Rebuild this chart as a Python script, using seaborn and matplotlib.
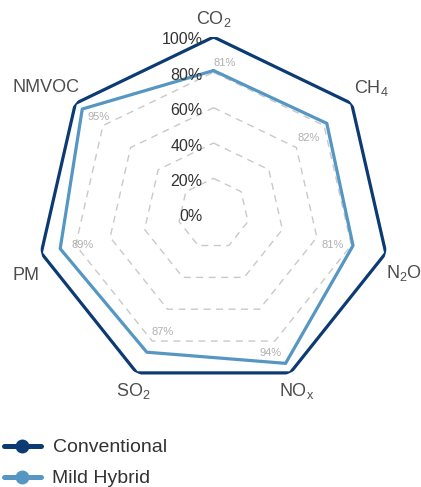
import numpy as np
import pandas as pd
import matplotlib
matplotlib.use("Agg")
import matplotlib.pyplot as plt
from matplotlib.lines import Line2D
import seaborn as sns

# Emission categories and relative emissions (Conventional = 100%)
categories = ["CO$_2$", "CH$_4$", "N$_2$O", "NO$_x$", "SO$_2$", "PM", "NMVOC"]
conventional = [100, 100, 100, 100, 100, 100, 100]
mild_hybrid = [81, 82, 81, 94, 87, 89, 95]
series_names = ["Conventional", "Mild Hybrid"]
ring_levels = [0, 20, 40, 60, 80, 100]
ring_labels = ["0%", "20%", "40%", "60%", "80%", "100%"]

colors = {"Conventional": "#0b3b72", "Mild Hybrid": "#5596c2"}

sns.set_theme(style="white")
plt.rcParams["font.family"] = ["Liberation Sans", "DejaVu Sans"]
plt.rcParams["mathtext.fontset"] = "custom"
plt.rcParams["mathtext.rm"] = "Liberation Sans"
plt.rcParams["mathtext.it"] = "Liberation Sans"
plt.rcParams["mathtext.default"] = "regular"

n = len(categories)
angles = np.arange(n) * 2 * np.pi / n
closed = np.append(angles, angles[0])

rows = []
for name, vals in zip(series_names, [conventional, mild_hybrid]):
    for k, (a, v) in enumerate(zip(closed, list(vals) + [vals[0]])):
        rows.append({"theta": a, "value": v, "series": name, "order": k})
df = pd.DataFrame(rows)

W, H = 421, 487
fig = plt.figure(figsize=(W / 100, H / 100), dpi=100)
cx, cy, R = 213.5, 213.7, 176.7
ax = fig.add_axes([(cx - R) / W, (H - cy - R) / H, 2 * R / W, 2 * R / H],
                  projection="polar")
ax.set_theta_offset(np.pi / 2)
ax.set_theta_direction(-1)
ax.set_ylim(0, 100)
ax.grid(False)
ax.set_xticks([])
ax.set_yticks([])
ax.spines["polar"].set_visible(False)
ax.patch.set_alpha(0)

# dashed heptagonal grid
for lvl in ring_levels[1:-1]:
    ax.plot(closed, [lvl] * (n + 1), color="#c9c9c9", lw=1.0,
            ls=(0, (5, 4)), zorder=1)

sns.lineplot(data=df, x="theta", y="value", hue="series", sort=False,
             estimator=None, units="series", palette=colors, lw=2.3,
             legend=False, ax=ax, zorder=3)
ax.set_xlabel("")
ax.set_ylabel("")

# radial tick labels along the top spoke
for lvl, lab in zip(ring_levels, ring_labels):
    ax.annotate(lab, (0, lvl), xytext=(-11, -3), textcoords="offset pixels",
                ha="right", va="center", fontsize=11.5, color="#333333")

# category labels
cat_offsets = [(0, 18), (20, 16), (18, -20), (7, -18), (-4, -18), (-15, -22), (-29, 16)]
for a, lab, off in zip(angles, categories, cat_offsets):
    ax.annotate(lab, (a, 100), xytext=off, textcoords="offset pixels",
                ha="center", va="center", fontsize=13, color="#4d4d4d")

# value labels for the hybrid
val_offsets = [(11, 8), (-18, -15), (-20, 1), (-15, 10), (16, 20), (22, 4), (16, -8)]
for a, v, off in zip(angles, mild_hybrid, val_offsets):
    ax.annotate(f"{v}%", (a, v), xytext=off, textcoords="offset pixels",
                ha="center", va="center", fontsize=8, color="#b0b0b0")

handles = [Line2D([], [], color=colors[s], lw=3.6, marker="o", markersize=9)
           for s in series_names]
fig.legend(handles, series_names, loc="upper left",
           bbox_to_anchor=(0 / W, 1 - 435 / H), frameon=False,
           fontsize=14, handlelength=1.9, handletextpad=0.6,
           labelspacing=0.68, borderpad=0.2, borderaxespad=0,
           labelcolor="#333333")

fig.savefig("out.png", dpi=100)
